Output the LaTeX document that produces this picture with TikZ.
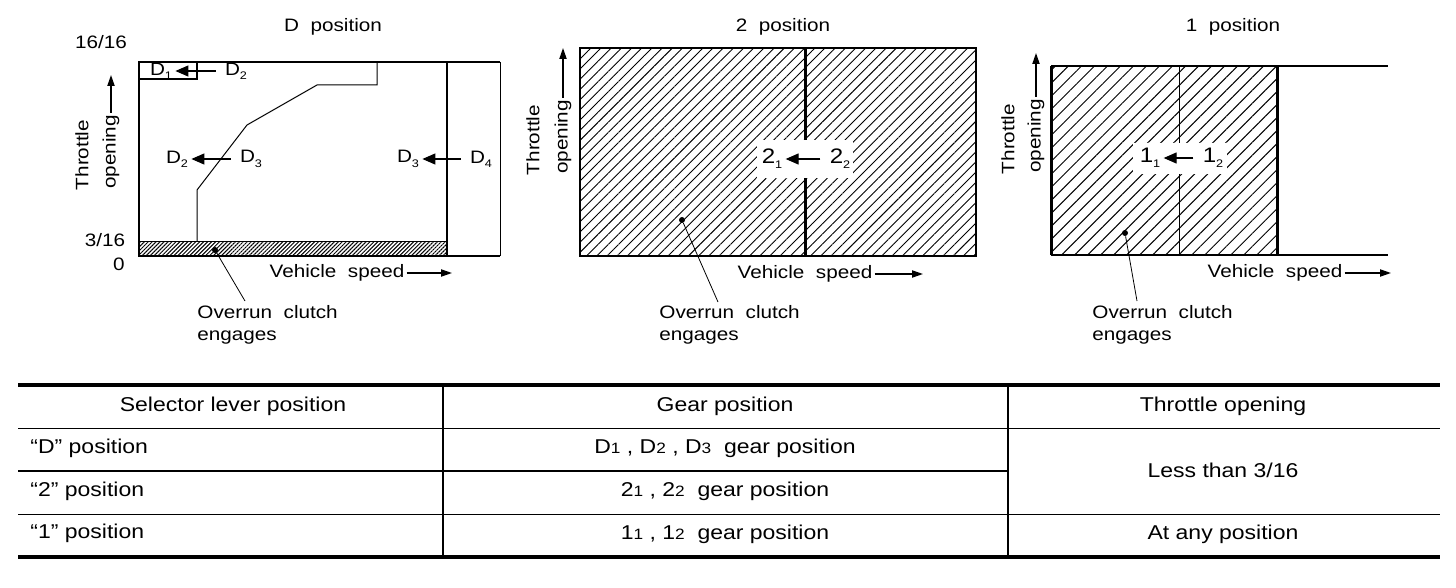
\documentclass[tikz,border=0pt]{standalone}
\usepackage{fontspec}
\setmainfont{Liberation Sans}
\newfontfamily\wideface[FakeStretch=1.15]{Liberation Sans}
\usetikzlibrary{arrows.meta, patterns.meta, positioning, calc}

% small index digits (chart and table)
\newcommand{\gidx}[1]{\raisebox{-0.45ex}{\fontsize{5.5pt}{6pt}\selectfont #1}}
\newcommand{\tidx}[1]{{\fontsize{7.5pt}{8pt}\selectfont #1}}

\begin{document}
\begin{tikzpicture}[
  x=0.5pt, y=-0.5pt,
  % --- text ---
  lbl/.style={font=\wideface\fontsize{9pt}{10pt}\selectfont, inner sep=1pt},
  axlbl/.style={lbl, rotate=90},
  gear/.style={font=\wideface\fontsize{9pt}{10pt}\selectfont, inner sep=1.5pt},
  biggear/.style={font=\wideface\fontsize{10.5pt}{11pt}\selectfont, inner sep=1.5pt},
  cell/.style={font=\wideface\fontsize{10pt}{12pt}\selectfont, inner sep=1pt},
  % --- lines ---
  frame/.style={line width=1pt},
  heavy/.style={line width=1.5pt},
  fine/.style={line width=0.5pt},
  leader/.style={line width=0.4pt},
  rulethick/.style={line width=2pt},
  rulemid/.style={line width=0.9pt},
  rulefine/.style={line width=0.5pt},
  % --- hatching ---
  hdense/.style={pattern={Lines[angle=45, distance=1.4pt, line width=0.5pt]}},
  hmid/.style={pattern={Lines[angle=45, distance=3.6pt, line width=0.45pt]}},
  hwide/.style={pattern={Lines[angle=45, distance=4.6pt, line width=0.5pt]}},
  % --- arrows ---
  shiftarr/.style={-{Triangle[length=6.5pt, width=5.5pt]}, line width=0.6pt, shorten <=3pt},
  axarr/.style={-{Triangle[length=5.5pt, width=3.6pt]}, line width=0.7pt},
  dot/.style={circle, fill=black, inner sep=0pt, minimum size=3pt},
]
\useasboundingbox (0,0) rectangle (1456,588);

% ===================== D POSITION =====================

\fill[hdense] (139,242) rectangle (447,256);
\draw[fine] (139,242) -- (447,242);
\draw[frame] (500,62) -- (139,62) -- (139,256) -- (500,256);
\draw[fine] (500,62) -- (500,256);
\draw[frame] (447,62) -- (447,256);
\draw[frame] (139,62) rectangle (197,79);
% shift line
\draw[fine] (197,242) -- (197,190) -- (247,125) -- (317,85) -- (377,85) -- (377,62);

\node[lbl] (dtitle) at (333,27) {D~~position};
\node[lbl] (dfull) at (101,42) {16/16};
\node[lbl] (dlow) at (105,240) {3/16};
\node[lbl] (dzero) at (119,264) {0};
\node[axlbl] (dthr) at (82,155) {Throttle};
\node[axlbl] (dopen) at (111,152) {opening};
\coordinate (duptip) at (111,75);
\draw[axarr] (dopen.east) -- (dopen.east |- duptip);

\node[gear] (dA) at (161,71) {D\gidx{1}};
\node[gear] (dB) at (236,71) {D\gidx{2}};
\draw[shiftarr] (dB) -- (dA);
\node[gear] (dC) at (177,159) {D\gidx{2}};
\node[gear] (dD) at (251,159) {D\gidx{3}};
\draw[shiftarr] (dD) -- (dC);
\node[gear] (dE) at (408,159) {D\gidx{3}};
\node[gear] (dF) at (481,159) {D\gidx{4}};
\draw[shiftarr] (dF) -- (dE);

\node[lbl] (dveh) at (337,273) {Vehicle~~speed};
\coordinate (dvtip) at (452,273);
\draw[axarr] (dveh.east) -- (dvtip);

\node[dot] (ddot) at (215,250) {};
\node[lbl, anchor=west] (dover) at (195,312) {Overrun~~clutch};
\node[lbl, anchor=west] (deng) at (195,338) {engages};
\coordinate (dlead) at (245,301);
\draw[leader] (ddot) -- (dlead);

% ===================== 2 POSITION =====================

\fill[hmid] (580,48) rectangle (976,256);
\draw[heavy] (805,48) -- (805,256);
\fill[white] (757,140) rectangle (853,178);
\draw[frame] (580,48) rectangle (976,256);

\node[lbl] (ttitle) at (783,27) {2~~position};
\node[axlbl] (tthr) at (533,140) {Throttle};
\node[axlbl] (topen) at (563,137) {opening};
\coordinate (tuptip) at (563,48);
\draw[axarr] (topen.east) -- (topen.east |- tuptip);

\node[biggear] (tA) at (772,159) {2\gidx{1}};
\node[biggear] (tB) at (840,159) {2\gidx{2}};
\draw[shiftarr] (tB) -- (tA);

\node[lbl] (tveh) at (805,274) {Vehicle~~speed};
\coordinate (tvtip) at (923,274);
\draw[axarr] (tveh.east) -- (tvtip);

\node[dot] (tdot) at (682,220) {};
\node[lbl, anchor=west] (tover) at (657,312) {Overrun~~clutch};
\node[lbl, anchor=west] (teng) at (657,338) {engages};
\coordinate (tlead) at (718,302);
\draw[leader] (tdot) -- (tlead);

% ===================== 1 POSITION =====================

\fill[hwide] (1051,66) rectangle (1277,255);
\draw[fine] (1179,66) -- (1179,255);
\fill[white] (1133,143) rectangle (1227,174);
\draw[frame] (1051,66) -- (1388,66);
\draw[frame] (1051,255) -- (1388,255);
\draw[heavy] (1051,66) -- (1051,255);
\draw[heavy] (1277,66) -- (1277,255);

\node[lbl] (otitle) at (1233,27) {1~~position};
\node[axlbl] (othr) at (1008,139) {Throttle};
\node[axlbl] (oopen) at (1036,136) {opening};
\coordinate (ouptip) at (1036,53);
\draw[axarr] (oopen.east) -- (oopen.east |- ouptip);

\node[biggear] (oA) at (1150,158) {1\gidx{1}};
\node[biggear] (oB) at (1213,158) {1\gidx{2}};
\draw[shiftarr] (oB) -- (oA);

\node[lbl] (oveh) at (1275,273) {Vehicle~~speed};
\coordinate (ovtip) at (1391,273);
\draw[axarr] (oveh.east) -- (ovtip);

\node[dot] (odot) at (1125,233) {};
\node[lbl, anchor=west] (oover) at (1090,312) {Overrun~~clutch};
\node[lbl, anchor=west] (oeng) at (1090,338) {engages};
\coordinate (olead) at (1137,301);
\draw[leader] (odot) -- (olead);

% ===================== TABLE =====================

\draw[rulethick] (18,385) -- (1440,385);
\draw[rulefine] (18,428) -- (1440,428);
\draw[rulemid] (18,471) -- (1008,471);
\draw[rulefine] (18,514) -- (1440,514);
\draw[rulethick] (18,557) -- (1440,557);
\draw[rulemid] (443,383) -- (443,557);
\draw[rulemid] (1008,383) -- (1008,557);

\node[cell] (hsel) at (233,406) {Selector lever position};
\node[cell] (hgear) at (725,406) {Gear position};
\node[cell] (hthr) at (1223,406) {Throttle opening};

\node[cell, anchor=west] (dsel) at (28,448) {“D” position};
\node[cell] (dgear) at (725,448) {D\tidx{1} , D\tidx{2} , D\tidx{3}~~gear position};
\node[cell, anchor=west] (tsel) at (28,491) {“2” position};
\node[cell] (tgear) at (725,491) {2\tidx{1} , 2\tidx{2}~~gear position};
\node[cell, anchor=west] (osel) at (28,533) {“1” position};
\node[cell] (ogear) at (725,534) {1\tidx{1} , 1\tidx{2}~~gear position};

\node[cell] (lessthr) at (1223,470) {Less than 3/16};
\node[cell] (anythr) at (1223,534) {At any position};

\end{tikzpicture}
\end{document}
